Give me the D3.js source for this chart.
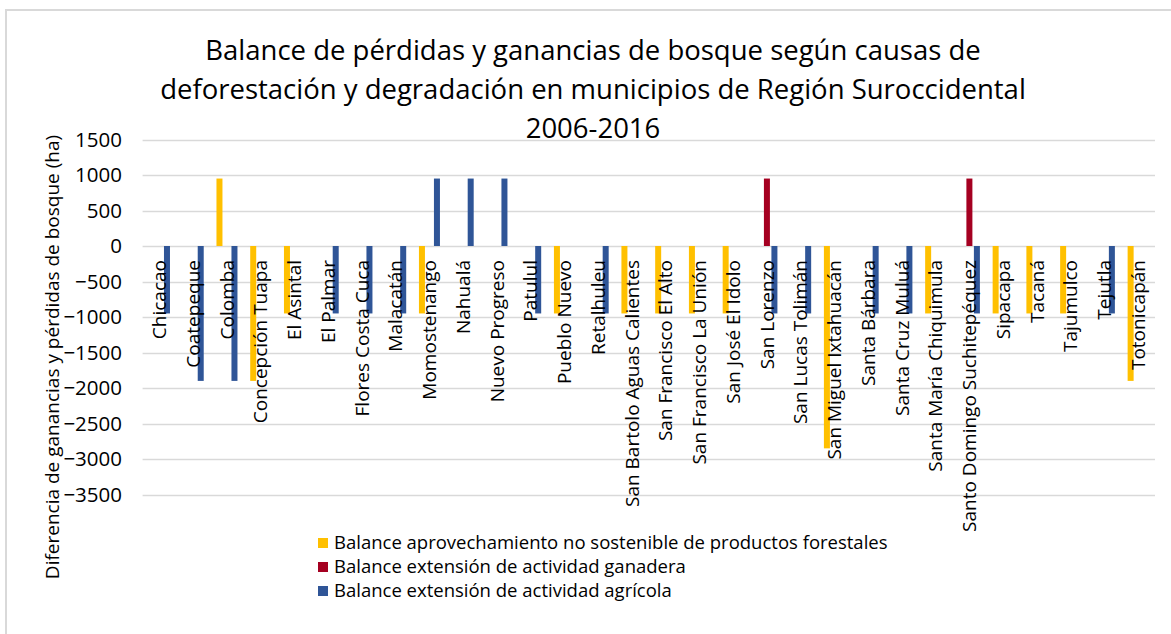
<!DOCTYPE html>
<html>
<head>
<meta charset="utf-8">
<script src="https://cdn.jsdelivr.net/npm/d3@7"></script>
<style>
  html, body { margin: 0; padding: 0; background: #ffffff; }
  svg { display: block; }
  text { font-family: "Open Sans", "Noto Sans", sans-serif; fill: #000; }
</style>
</head>
<body>
<svg id="chart" width="1171" height="634"></svg>
<script>
// Municipios of the Región Suroccidental
const categories = [
  "Chicacao", "Coatepeque", "Colomba", "Concepción Tuapa", "El Asintal",
  "El Palmar", "Flores Costa Cuca", "Malacatán", "Momostenango", "Nahualá",
  "Nuevo Progreso", "Patulul", "Pueblo Nuevo", "Retalhuleu",
  "San Bartolo Aguas Calientes", "San Francisco El Alto", "San Francisco La Unión",
  "San José El Idolo", "San Lorenzo", "San Lucas Tolimán", "San Miguel Ixtahuacán",
  "Santa Bárbara", "Santa Cruz Muluá", "Santa María Chiquimula",
  "Santo Domingo Suchitepéquez", "Sipacapa", "Tacaná", "Tajumulco", "Tejutla",
  "Totonicapán"
];

// Balance (ha) per cause, one value per municipio
const forestales = [
  0, 0, 950, -1900, -950,
  0, 0, 0, -950, 0,
  0, 0, -950, 0,
  -950, -950, -950,
  -950, 0, 0, -2850,
  0, 0, -950,
  0, -950, -950, -950, 0,
  -1900
];
const ganadera = [
  0, 0, 0, 0, 0,
  0, 0, 0, 0, 0,
  0, 0, 0, 0,
  0, 0, 0,
  0, 950, 0, 0,
  0, 0, 0,
  950, 0, 0, 0, 0,
  0
];
const agricola = [
  -950, -1900, -1900, 0, 0,
  -950, -950, -950, 950, 950,
  950, -950, 0, -950,
  0, 0, 0,
  0, -950, -950, 0,
  -950, -950, 0,
  -950, 0, 0, 0, -950,
  0
];

const seriesNames = [
  "Balance aprovechamiento no sostenible de productos forestales",
  "Balance extensión de actividad ganadera",
  "Balance extensión de actividad agrícola"
];
const seriesColors = ["#FFC000", "#A50021", "#2F5597"];
const yTicks = [1500, 1000, 500, 0, -500, -1000, -1500, -2000, -2500, -3000, -3500];

const titleLines = [
  "Balance de pérdidas y ganancias de bosque según causas de",
  "deforestación y degradación en municipios de Región Suroccidental",
  "2006-2016"
];
const yAxisTitle = "Diferencia de ganancias y pérdidas de bosque (ha)";

const seriesValues = [forestales, ganadera, agricola];

const svg = d3.select("#chart");

// chart frame
svg.append("rect")
  .attr("x", 6).attr("y", 10)
  .attr("width", 1300).attr("height", 800)
  .attr("fill", "#ffffff")
  .attr("stroke", "#d9d9d9")
  .attr("stroke-width", 2);

const plot = { left: 142.6, right: 1155, top: 139.5, bottom: 494.5 };

const x = d3.scaleBand()
  .domain(categories)
  .range([plot.left, plot.right])
  .padding(0);

const x1 = d3.scaleBand()
  .domain(d3.range(seriesNames.length))
  .range([-10.5, 10.5])
  .paddingInner(0.2)
  .paddingOuter(0);

const y = d3.scaleLinear()
  .domain([-3500, 1500])
  .range([plot.bottom, plot.top]);

// gridlines
svg.append("g")
  .selectAll("line")
  .data(yTicks)
  .join("line")
  .attr("x1", plot.left).attr("x2", plot.right)
  .attr("y1", d => Math.round(y(d)) + 0.5)
  .attr("y2", d => Math.round(y(d)) + 0.5)
  .attr("stroke", "#d9d9d9")
  .attr("stroke-width", 1.3);

// y tick labels
const yAxis = d3.axisLeft(y).tickValues(yTicks).tickSize(0).tickPadding(0).tickFormat(d3.format("d"));
const yg = svg.append("g")
  .attr("transform", `translate(122,0)`)
  .call(yAxis);
yg.select(".domain").remove();
yg.selectAll("text")
  .attr("font-size", 20.5)
  .attr("font-family", "'Open Sans', 'Noto Sans', sans-serif")
  .attr("fill", "#000");

// bars
const bars = [];
seriesValues.forEach((vals, s) => {
  vals.forEach((v, i) => {
    if (v !== 0) bars.push({ cat: categories[i], s, v });
  });
});

svg.append("g")
  .selectAll("rect")
  .data(bars)
  .join("rect")
  .attr("x", d => x(d.cat) + x.bandwidth() / 2 + x1(d.s))
  .attr("width", x1.bandwidth())
  .attr("y", d => y(Math.max(0, d.v)))
  .attr("height", d => Math.abs(y(d.v) - y(0)))
  .attr("fill", d => seriesColors[d.s]);

// category labels, rotated, hanging below the zero line
svg.append("g")
  .selectAll("text")
  .data(categories)
  .join("text")
  .attr("transform", d => `translate(${x(d) + x.bandwidth() / 2},260) rotate(-90)`)
  .attr("text-anchor", "end")
  .attr("dy", "0.35em")
  .attr("font-size", 19)
  .text(d => d);

// title
svg.append("g")
  .selectAll("text")
  .data(titleLines)
  .join("text")
  .attr("x", 593)
  .attr("y", (d, i) => 60 + i * 39)
  .attr("text-anchor", "middle")
  .attr("font-size", 27.5)
  .text(d => d);

// y axis title
svg.append("text")
  .attr("transform", "translate(52,357) rotate(-90)")
  .attr("text-anchor", "middle")
  .attr("dy", "0.35em")
  .attr("font-size", 19)
  .text(yAxisTitle);

// legend
const legend = svg.append("g")
  .selectAll("g")
  .data(seriesNames)
  .join("g")
  .attr("transform", (d, i) => `translate(318,${543 + i * 24})`);
legend.append("rect")
  .attr("x", 0).attr("y", -5)
  .attr("width", 10).attr("height", 10)
  .attr("fill", (d, i) => seriesColors[i]);
legend.append("text")
  .attr("x", 16)
  .attr("dy", "0.35em")
  .attr("font-size", 18.5)
  .text(d => d);
</script>
</body>
</html>
